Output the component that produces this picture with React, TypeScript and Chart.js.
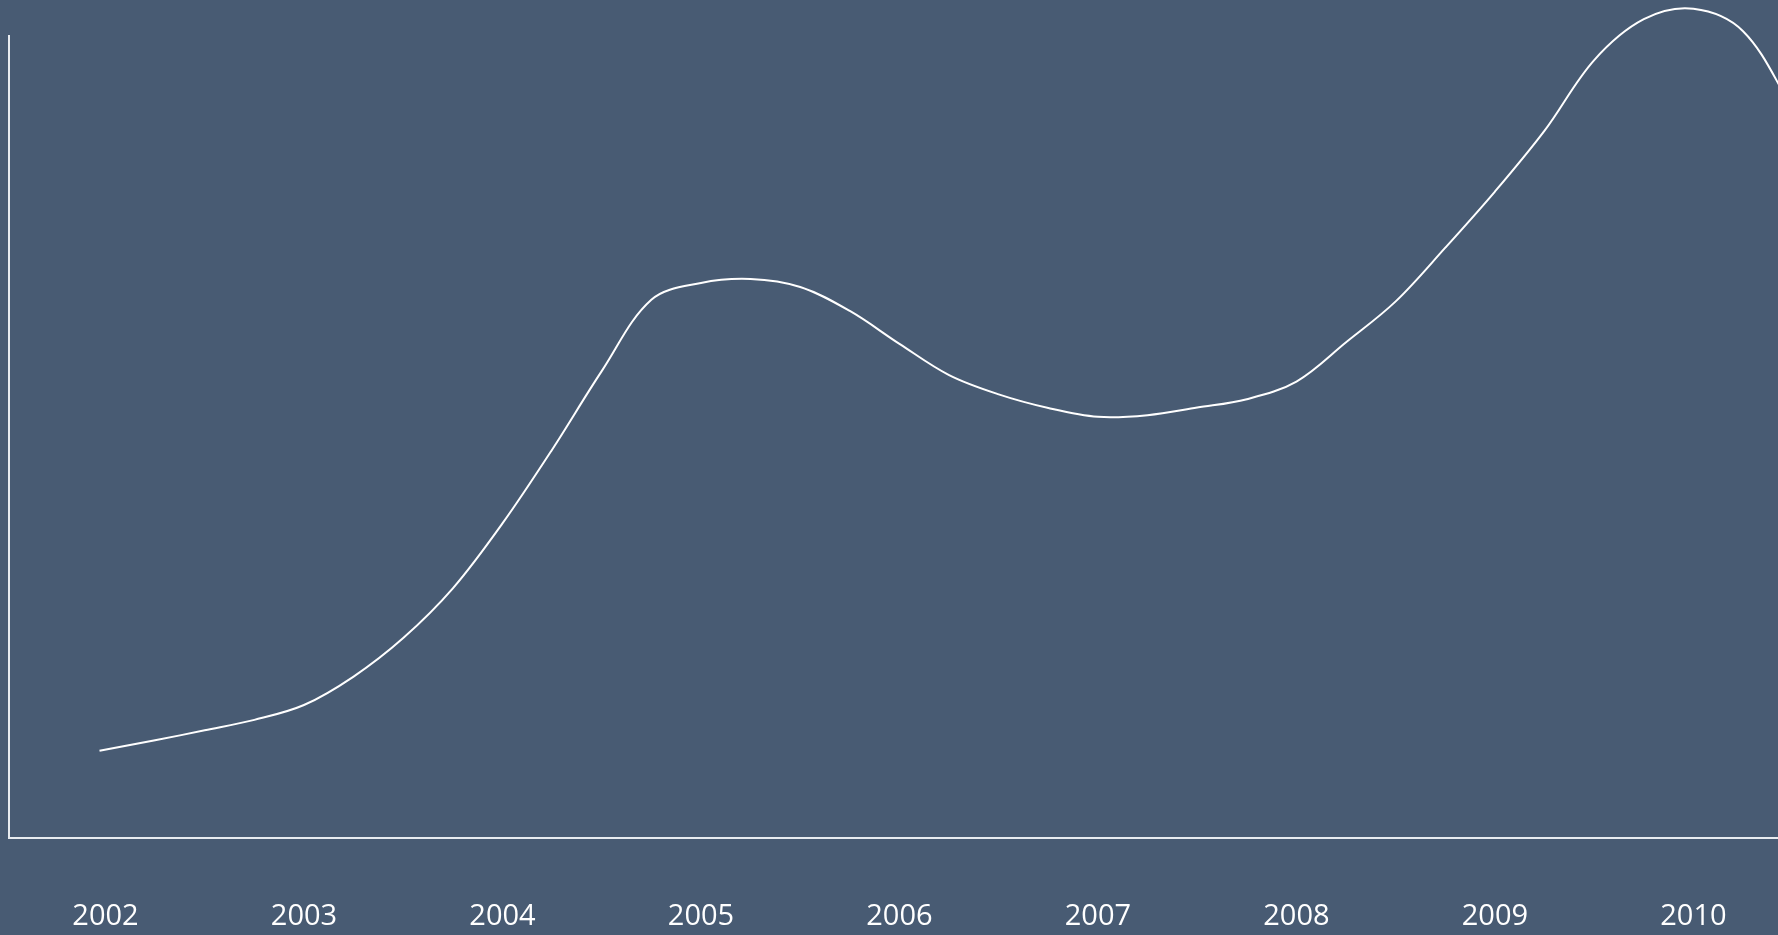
import React, { useEffect, useRef } from "react";
import { Chart, registerables } from "chart.js";

Chart.register(...registerables);

// Year tick labels on the x axis
const YEARS: number[] = [2002, 2003, 2004, 2005, 2006, 2007, 2008, 2009, 2010];

// Sample positions (fractional years) and values
const SAMPLE_X: number[] = [
  2001.97, 2002.25, 2002.5, 2002.75, 2003.0, 2003.25, 2003.5, 2003.75,
  2004.0, 2004.25, 2004.5, 2004.75, 2005.0, 2005.25, 2005.5, 2005.75,
  2006.0, 2006.25, 2006.5, 2006.75, 2007.0, 2007.25, 2007.5, 2007.75,
  2008.0, 2008.25, 2008.5, 2008.75, 2009.0, 2009.25, 2009.5, 2009.75,
  2010.0, 2010.25, 2010.5,
];
const SAMPLE_Y: number[] = [
  10.85, 12.15, 13.4, 14.7, 16.55, 20.1, 24.9, 31.1,
  39.2, 48.4, 58.2, 67.1, 69.2, 69.7, 68.7, 65.7,
  61.6, 57.7, 55.3, 53.6, 52.5, 52.7, 53.65, 54.7,
  56.9, 61.8, 66.9, 73.6, 80.6, 88.2, 97.0, 102.1,
  103.4, 100.6, 91.0,
];

const BG = "#485b73";
const FG = "#ffffff";

export default function App() {
  const ref = useRef<HTMLCanvasElement | null>(null);

  useEffect(() => {
    if (!ref.current) return;
    const points = SAMPLE_X.map((x, i) => ({ x, y: SAMPLE_Y[i] }));
    const chart = new Chart(ref.current, {
      type: "line",
      data: {
        datasets: [
          {
            data: points,
            borderColor: FG,
            borderWidth: 2,
            pointRadius: 0,
            tension: 0.35,
            fill: false,
            clip: { left: 0, top: false, right: 0, bottom: 0 } as any,
          },
        ],
      },
      options: {
        animation: false,
        responsive: false,
        maintainAspectRatio: false,
        devicePixelRatio: 1,
        layout: { padding: { left: 9, top: 36, right: 0, bottom: 0 } },
        plugins: { legend: { display: false }, tooltip: { enabled: false } },
        scales: {
          x: {
            type: "linear",
            min: 2001.514,
            max: 2010.426,
            grid: { display: false, drawTicks: false },
            border: { display: true, color: "#e8ecf0", width: 2 },
            afterBuildTicks: (scale: any) => {
              scale.ticks = YEARS.map((v) => ({ value: v }));
            },
            afterFit: (scale: any) => {
              scale.height = 97.3;
              scale.paddingLeft = 0;
              scale.paddingRight = 0;
            },
            ticks: {
              color: FG,
              padding: 61.5,
              maxRotation: 0,
              autoSkip: false,
              font: { family: "'Open Sans', sans-serif", size: 29 },
              callback: (v: any) => String(v),
            },
          },
          y: {
            min: 0,
            max: 100,
            grid: { display: false, drawTicks: false },
            border: { display: true, color: "#e8ecf0", width: 2 },
            ticks: { display: false },
          },
        },
      },
    });
    return () => chart.destroy();
  }, []);

  return (
    <div
      style={{
        position: "fixed",
        left: 0,
        top: 0,
        width: 1778,
        height: 935,
        background: BG,
        overflow: "hidden",
      }}
    >
      <canvas ref={ref} width={1778} height={935} style={{ display: "block", width: 1778, height: 935 }} />
    </div>
  );
}
